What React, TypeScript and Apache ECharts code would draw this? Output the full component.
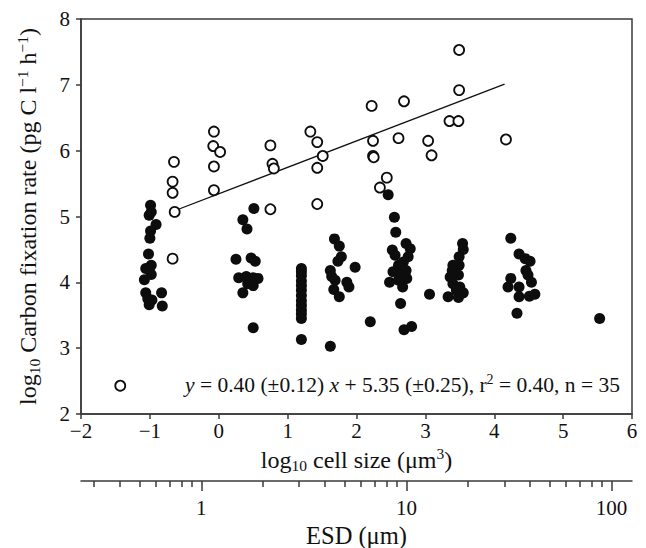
import React, { useEffect, useRef } from 'react';
import * as echarts from 'echarts';

// open circles: [log10 cell size, log10 carbon fixation]
const openPts: number[][] = [
  [-1.43, 2.43], [-0.65, 5.83], [-0.67, 5.53], [-0.67, 5.36], [-0.64, 5.07], [-0.67, 4.36],
  [-0.07, 6.29], [-0.08, 6.07], [0.02, 5.98], [-0.07, 5.76], [-0.07, 5.40],
  [0.75, 6.08], [0.78, 5.80], [0.80, 5.73], [0.75, 5.11],
  [1.33, 6.29], [1.43, 6.13], [1.51, 5.92], [1.43, 5.74], [1.43, 5.19],
  [2.22, 6.68], [2.69, 6.75], [3.49, 7.53], [3.49, 6.92], [3.35, 6.45], [3.48, 6.45],
  [2.24, 6.15], [2.61, 6.19], [3.04, 6.15], [4.17, 6.17], [2.24, 5.92], [2.25, 5.90],
  [3.09, 5.93], [2.44, 5.59], [2.34, 5.44],
];

const filledA: number[][] = [
  [-0.99, 5.17], [-1.01, 5.02], [-0.98, 5.07], [-0.91, 4.88], [-0.99, 4.78], [-1.0, 4.67],
  [-1.02, 4.43], [-0.98, 4.26], [-1.06, 4.21], [-0.98, 4.12], [-1.08, 4.04], [-1.06, 3.84],
  [-0.83, 3.84], [-1.03, 3.75], [-0.97, 3.73], [-1.01, 3.66], [-0.82, 3.64],
];
const filledB: number[][] = [
  [0.51, 5.12], [0.35, 4.95], [0.41, 4.81], [0.25, 4.35], [0.47, 4.37], [0.53, 4.32],
  [0.29, 4.07], [0.40, 4.09], [0.50, 4.07], [0.57, 4.06], [0.42, 3.98], [0.50, 3.95],
  [0.35, 3.84], [0.50, 3.31],
];
const filledC: number[][] = [
  [1.2, 4.21], [1.2, 4.16], [1.2, 4.10], [1.2, 4.02], [1.2, 3.95], [1.2, 3.88], [1.2, 3.80],
  [1.2, 3.72], [1.2, 3.65], [1.2, 3.58], [1.2, 3.52], [1.2, 3.45], [1.2, 3.13], [1.62, 3.03],
];
const filledD: number[][] = [
  [1.68, 4.66], [1.75, 4.55], [1.78, 4.39], [1.73, 4.32], [1.62, 4.18], [1.64, 4.09],
  [1.69, 4.03], [1.86, 4.00], [1.89, 3.93], [1.67, 3.89], [1.75, 3.78], [1.98, 4.23],
];
const filledE: number[][] = [
  [2.46, 5.33], [2.55, 4.99], [2.57, 4.76], [2.72, 4.59], [2.78, 4.51], [2.52, 4.49],
  [2.56, 4.41], [2.75, 4.39], [2.68, 4.31], [2.61, 4.26], [2.72, 4.18], [2.53, 4.16],
  [2.65, 4.12], [2.73, 4.06], [2.61, 4.03], [2.48, 4.00], [2.67, 3.93], [2.64, 3.68],
  [3.06, 3.82], [2.20, 3.40], [2.69, 3.28], [2.80, 3.33],
];
const filledF: number[][] = [
  [3.54, 4.59], [3.55, 4.50], [3.49, 4.39], [3.40, 4.26], [3.49, 4.26], [3.39, 4.18],
  [3.36, 4.08], [3.48, 4.11], [3.40, 3.98], [3.50, 3.93], [3.45, 3.88], [3.33, 3.78],
  [3.48, 3.77], [3.55, 3.84],
];
const filledG: number[][] = [
  [4.24, 4.67], [4.36, 4.43], [4.45, 4.36], [4.52, 4.32], [4.46, 4.18], [4.49, 4.11],
  [4.54, 4.00], [4.24, 4.06], [4.20, 3.93], [4.36, 3.93], [4.36, 3.78], [4.51, 3.79],
  [4.59, 3.82], [4.33, 3.53], [5.53, 3.45],
];
const filledPts = [...filledA, ...filledB, ...filledC, ...filledD, ...filledE, ...filledF, ...filledG];

const fitLine: number[][] = [[-0.66, 5.08], [4.15, 7.01]];

const esdMajor = [1, 10, 100];
const esdMinor = [0.3, 0.4, 0.5, 0.6, 0.7, 0.8, 0.9, 2, 3, 4, 5, 6, 7, 8, 9, 20, 30, 40, 50, 60, 70, 80, 90];
const esdRange = [0.259, 125.8];

const FONT = 'Liberation Serif';
const AX = '#3a3a3a';
const TXT = '#111';

const titleRich = {
  n: { fontSize: 24, fontFamily: FONT, color: TXT, lineHeight: 28 },
  s: { fontSize: 15.5, fontFamily: FONT, color: TXT, lineHeight: 13, verticalAlign: 'bottom' },
  p: { fontSize: 15.5, fontFamily: FONT, color: TXT, lineHeight: 16, verticalAlign: 'top' },
};

export default function App() {
  const ref = useRef<HTMLDivElement>(null);
  useEffect(() => {
    if (!ref.current) return;
    const chart = echarts.init(ref.current, null, { renderer: 'svg' });
    const lg = (v: number) => Math.log10(v);
    const esdAxisBase = {
      type: 'value',
      gridIndex: 0,
      position: 'bottom',
      offset: 67,
      min: lg(esdRange[0]),
      max: lg(esdRange[1]),
      splitLine: { show: false },
    };
    chart.setOption({
      animation: false,
      backgroundColor: '#fff',
      textStyle: { fontFamily: FONT },
      grid: {
        left: 81, right: 14, top: 19, bottom: 134, containLabel: false, outerBoundsMode: 'none',
        show: true, borderColor: AX, borderWidth: 1.5,
      },
      xAxis: [
        {
          type: 'value', min: -2, max: 6, interval: 1,
          axisLine: { onZero: false, lineStyle: { color: AX, width: 1.5 } },
          axisTick: { length: 5, lineStyle: { color: AX, width: 1.5 } },
          splitLine: { show: false },
          axisLabel: {
            color: TXT, fontSize: 21, fontFamily: FONT, margin: 6,
            formatter: (v: number) => (v < 0 ? '\u2212' + Math.abs(v) : String(v)),
          },
          name: '{n|log}{s|10}{n| cell size (μm}{p|3}{n|)}',
          nameLocation: 'middle', nameGap: 29,
          nameTextStyle: { rich: titleRich },
        },
        {
          ...esdAxisBase,
          axisLine: { show: true, onZero: false, lineStyle: { color: AX, width: 1.5 } },
          axisTick: { show: true, length: 10, customValues: esdMajor.map(lg), lineStyle: { color: AX, width: 1.5 } },
          axisLabel: {
            show: true, customValues: esdMajor.map(lg), color: TXT, fontSize: 21, fontFamily: FONT, margin: 16,
            formatter: (v: number) => String(Math.round(Math.pow(10, v))),
          },
          name: 'ESD (μm)', nameLocation: 'middle', nameGap: 37,
          nameTextStyle: { fontSize: 24.5, fontFamily: FONT, color: TXT },
        },
        {
          ...esdAxisBase,
          axisLine: { show: false, onZero: false },
          axisTick: { show: true, length: 6, customValues: esdMinor.map(lg), lineStyle: { color: AX, width: 1.5 } },
          axisLabel: { show: false },
        },
      ],
      yAxis: [
        {
          type: 'value', min: 2, max: 8, interval: 1,
          axisLine: { show: true, onZero: false, lineStyle: { color: AX, width: 1.5 } },
          axisTick: { show: true, length: 5, lineStyle: { color: AX, width: 1.5 } },
          splitLine: { show: false },
          axisLabel: { color: TXT, fontSize: 21, fontFamily: FONT, margin: 11 },
          name: '{n|log}{s|10}{n| Carbon fixation rate (pg C l}{p|\u22121}{n| h}{p|\u22121}{n|)}',
          nameLocation: 'middle', nameGap: 39, nameRotate: 90,
          nameTextStyle: { rich: titleRich },
        },
      ],
      graphic: [
        {
          type: 'text', right: 26, top: 372, z: 10,
          style: {
            text: '{i|y}{n| = 0.40 (±0.12) }{i|x}{n| + 5.35 (±0.25), r}{p|2}{n| = 0.40, n = 35}',
            rich: {
              n: { fontSize: 21.5, fontFamily: FONT, fill: TXT, lineHeight: 26 },
              i: { fontSize: 21.5, fontFamily: FONT, fontStyle: 'italic', fill: TXT, lineHeight: 26 },
              p: { fontSize: 14, fontFamily: FONT, fill: TXT, lineHeight: 14, verticalAlign: 'top' },
            },
          },
        },
      ],
      series: [
        {
          type: 'line', data: fitLine, symbol: 'none', silent: true,
          lineStyle: { color: '#111', width: 1.3 }, z: 1,
        },
        {
          type: 'scatter', data: filledPts, symbol: 'circle', symbolSize: 11,
          itemStyle: { color: '#0d0d0d', opacity: 1 }, z: 2,
        },
        {
          type: 'scatter', data: openPts, symbol: 'circle', symbolSize: 10,
          itemStyle: { color: '#fff', borderColor: '#0d0d0d', borderWidth: 1.8, opacity: 1 }, z: 3,
        },
      ],
    });
    return () => chart.dispose();
  }, []);
  return <div ref={ref} style={{ position: 'fixed', left: 0, top: 0, width: 646, height: 548 }} />;
}
